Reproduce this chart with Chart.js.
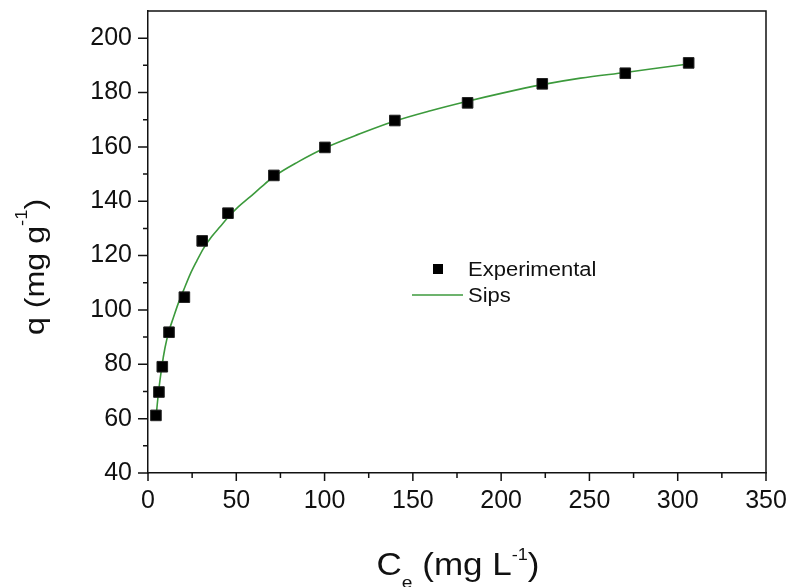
<!DOCTYPE html>
<html>
<head>
<meta charset="utf-8">
<script src="https://cdn.jsdelivr.net/npm/chart.js@4.4.1/dist/chart.umd.min.js"></script>
<style>
  html, body { margin: 0; padding: 0; background: #fff; }
  #wrap { width: 795px; height: 587px; }
</style>
</head>
<body>
<div id="wrap"><canvas id="c" width="795" height="587"></canvas></div>
<script>
// ---- Data ----
const expX = [4.5, 6.2, 8.1, 11.9, 20.6, 30.7, 45.3, 71.3, 100.2, 139.8, 181, 223.3, 270.3, 306.2];
const expY = [61.2, 69.8, 79.1, 91.8, 104.7, 125.4, 135.6, 149.5, 159.8, 169.7, 176.2, 183.2, 187.1, 190.9];

const sipsX = [4.6, 6, 7.8, 9.6, 12, 14.3, 17.2, 20, 23.8, 27.6, 31.3, 36.1, 40.8, 45.5, 51.1, 57.8, 63.4, 71.3, 85, 100.2, 120, 139.8, 160, 181, 200, 223.3, 245, 270.3, 290, 306.2];
const sipsY = [61, 70, 79, 86, 92.5, 97, 102.5, 107, 113, 118, 122.5, 127, 130.6, 134.2, 137.9, 141.6, 144.8, 149.1, 154.5, 159.6, 164.8, 169.5, 173.3, 176.8, 179.7, 182.9, 185.3, 187.4, 189.1, 190.5];

const xMajorTicks = [0, 50, 100, 150, 200, 250, 300, 350];
const xMinorTicks = [25, 75, 125, 175, 225, 275, 325];
const yMajorTicks = [40, 60, 80, 100, 120, 140, 160, 180, 200];
const yMinorTicks = [50, 70, 90, 110, 130, 150, 170, 190];

const seriesNames = ['Experimental', 'Sips'];
const FONT = '"Liberation Sans", Arial, Helvetica, sans-serif';
const GREEN = '#3c9a3c';

function drawPieces(ctx, pieces, cx, cy, stretch) {
  // pieces: {t, size, dy}
  let total = 0;
  pieces.forEach(p => { ctx.font = p.size + 'px ' + FONT; p.w = ctx.measureText(p.t).width; total += p.w; });
  ctx.save();
  ctx.translate(cx, cy);
  ctx.scale(stretch, 1);
  let x = -total / 2;
  ctx.textBaseline = 'alphabetic';
  ctx.textAlign = 'left';
  pieces.forEach(p => {
    ctx.font = p.size + 'px ' + FONT;
    ctx.fillText(p.t, x, p.dy || 0);
    x += p.w;
  });
  ctx.restore();
}

const decor = {
  id: 'decor',
  afterDraw(chart) {
    const ctx = chart.ctx;
    const a = chart.chartArea;
    const xs = chart.scales.x, ys = chart.scales.y;
    ctx.save();
    ctx.strokeStyle = '#111';
    ctx.fillStyle = '#111';
    ctx.lineWidth = 1.5;
    // frame top & right
    ctx.beginPath();
    ctx.moveTo(a.left, a.top); ctx.lineTo(a.right, a.top); ctx.lineTo(a.right, a.bottom);
    ctx.stroke();
    // ticks
    ctx.beginPath();
    xMajorTicks.forEach(v => { const p = xs.getPixelForValue(v); ctx.moveTo(p, a.bottom); ctx.lineTo(p, a.bottom + 8); });
    xMinorTicks.forEach(v => { const p = xs.getPixelForValue(v); ctx.moveTo(p, a.bottom); ctx.lineTo(p, a.bottom + 5); });
    yMajorTicks.forEach(v => { const p = ys.getPixelForValue(v); ctx.moveTo(a.left, p); ctx.lineTo(a.left - 10, p); });
    yMinorTicks.forEach(v => { const p = ys.getPixelForValue(v); ctx.moveTo(a.left, p); ctx.lineTo(a.left - 5, p); });
    ctx.stroke();

    // legend
    ctx.fillStyle = '#000';
    ctx.fillRect(433, 264, 10, 10);
    ctx.strokeStyle = GREEN;
    ctx.lineWidth = 1.5;
    ctx.beginPath(); ctx.moveTo(412, 295); ctx.lineTo(463, 295); ctx.stroke();
    ctx.fillStyle = '#111';
    ctx.font = '20px ' + FONT;
    ctx.textBaseline = 'middle';
    ctx.textAlign = 'left';
    ctx.save(); ctx.translate(468, 270); ctx.scale(1.1, 1); ctx.fillText(seriesNames[0], 0, 0); ctx.restore();
    ctx.save(); ctx.translate(468, 296); ctx.scale(1.1, 1); ctx.fillText(seriesNames[1], 0, 0); ctx.restore();

    // x axis title: C_e (mg L^-1)
    ctx.fillStyle = '#111';
    drawPieces(ctx, [
      {t: 'C', size: 31},
      {t: 'e', size: 17, dy: 13},
      {t: ' (mg L', size: 31},
      {t: '-1', size: 16, dy: -15},
      {t: ')', size: 31}
    ], 458, 575, 1.13);

    // y axis title: q (mg g^-1) rotated
    ctx.save();
    ctx.translate(44, 267);
    ctx.rotate(-Math.PI / 2);
    drawPieces(ctx, [
      {t: 'q (mg g', size: 28},
      {t: '-1', size: 16, dy: -17},
      {t: ')', size: 28}
    ], 0, 0, 1.15);
    ctx.restore();
    ctx.restore();
  }
};

new Chart(document.getElementById('c'), {
  type: 'scatter',
  data: {
    datasets: [
      {
        label: seriesNames[0],
        data: expX.map((x, i) => ({x, y: expY[i]})),
        pointStyle: 'rect',
        pointRadius: 7.5,
        pointHoverRadius: 7.5,
        backgroundColor: '#000',
        borderColor: '#222',
        borderWidth: 1,
        showLine: false,
        order: 0
      },
      {
        label: seriesNames[1],
        data: sipsX.map((x, i) => ({x, y: sipsY[i]})),
        showLine: true,
        pointRadius: 0,
        borderColor: GREEN,
        borderWidth: 1.6,
        cubicInterpolationMode: 'monotone',
        fill: false,
        order: 1
      }
    ]
  },
  options: {
    responsive: false,
    animation: false,
    devicePixelRatio: 1,
    layout: { padding: { left: 0, right: 29, top: 11, bottom: 0 } },
    plugins: { legend: { display: false }, tooltip: { enabled: false } },
    scales: {
      x: {
        type: 'linear',
        min: 0, max: 350,
        afterBuildTicks: s => { s.ticks = xMajorTicks.map(v => ({value: v})); },
        afterFit: s => { s.height = 114; s.paddingLeft = 0; s.paddingRight = 0; s.paddingTop = 0; s.paddingBottom = 0; },
        ticks: { font: { family: FONT, size: 25 }, color: '#111', padding: 5, maxRotation: 0, autoSkip: false },
        grid: { drawOnChartArea: false, drawTicks: true, tickLength: 8, tickColor: 'rgba(0,0,0,0)' },
        border: { display: true, color: '#111', width: 1.5 }
      },
      y: {
        type: 'linear',
        min: 40, max: 210,
        afterBuildTicks: s => { s.ticks = yMajorTicks.map(v => ({value: v})); },
        afterFit: s => { s.width = 148; s.paddingLeft = 0; s.paddingRight = 0; s.paddingTop = 0; s.paddingBottom = 0; },
        ticks: { font: { family: FONT, size: 25 }, color: '#111', padding: 6, autoSkip: false },
        grid: { drawOnChartArea: false, drawTicks: true, tickLength: 10, tickColor: 'rgba(0,0,0,0)' },
        border: { display: true, color: '#111', width: 1.5 }
      }
    }
  },
  plugins: [decor]
});
</script>
</body>
</html>
